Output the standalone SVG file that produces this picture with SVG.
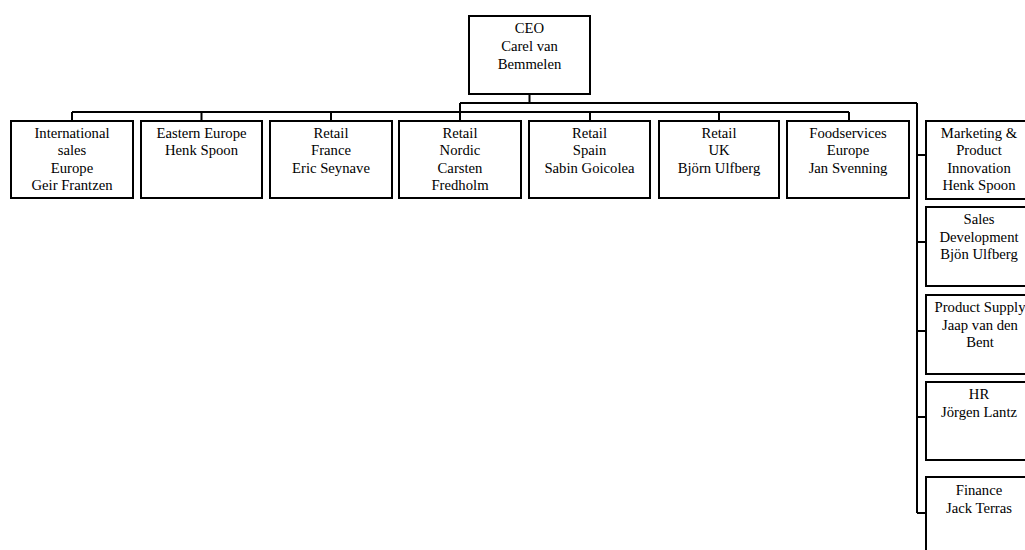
<svg xmlns="http://www.w3.org/2000/svg" width="1025" height="550" viewBox="0 0 1025 550">
<style>
.box{fill:#fff;stroke:#000;stroke-width:2}
.ln{fill:none;stroke:#000;stroke-width:2}
text{font-family:"Liberation Serif","Times New Roman",serif;font-size:14.7px;fill:#000;text-anchor:middle}
</style>
<rect width="1025" height="550" fill="#fff"/>
<g id="connectors" class="ln">
<path d="M529.5,94 V103 M460,103 H917 M460,103 V112 M72,112 H849"/>
<path d="M72,112 V121 M201.5,112 V121 M331,112 V121 M460,112 V121 M590,112 V121 M719,112 V121 M849,112 V121"/>
<path d="M917,103 V513 M917,155 H926 M917,242 H926 M917,331 H926 M917,417 H926 M917,513 H926"/>
</g>
<g id="ceo"><rect class="box" x="469" y="16" width="121" height="78"/><text x="529.5" y="33">CEO</text><text x="529.5" y="51">Carel van</text><text x="529.5" y="68.5">Bemmelen</text></g>
<g id="intl"><rect class="box" x="11" y="121" width="122" height="77"/><text x="72" y="137.5">International</text><text x="72" y="155">sales</text><text x="72" y="172.5">Europe</text><text x="72" y="190">Geir Frantzen</text></g>
<g id="eastern"><rect class="box" x="141" y="121" width="121" height="77"/><text x="201.5" y="137.5">Eastern Europe</text><text x="201.5" y="155">Henk Spoon</text></g>
<g id="france"><rect class="box" x="270" y="121" width="122" height="77"/><text x="331" y="137.5">Retail</text><text x="331" y="155">France</text><text x="331" y="172.5">Eric Seynave</text></g>
<g id="nordic"><rect class="box" x="399" y="121" width="122" height="77"/><text x="460" y="137.5">Retail</text><text x="460" y="155">Nordic</text><text x="460" y="172.5">Carsten</text><text x="460" y="190">Fredholm</text></g>
<g id="spain"><rect class="box" x="529" y="121" width="121" height="77"/><text x="589.5" y="137.5">Retail</text><text x="589.5" y="155">Spain</text><text x="589.5" y="172.5">Sabin Goicolea</text></g>
<g id="uk"><rect class="box" x="659" y="121" width="120" height="77"/><text x="719" y="137.5">Retail</text><text x="719" y="155">UK</text><text x="719" y="172.5">Björn Ulfberg</text></g>
<g id="food"><rect class="box" x="787" y="121" width="122" height="77"/><text x="848" y="137.5">Foodservices</text><text x="848" y="155">Europe</text><text x="848" y="172.5">Jan Svenning</text></g>
<g id="marketing"><rect class="box" x="926" y="121" width="108" height="78"/><text x="979" y="137.5">Marketing &amp;</text><text x="979" y="155">Product</text><text x="979" y="172.5">Innovation</text><text x="979" y="190">Henk Spoon</text></g>
<g id="salesdev"><rect class="box" x="926" y="207" width="108" height="79"/><text x="979" y="224">Sales</text><text x="979" y="241.5">Development</text><text x="979" y="259">Bjön Ulfberg</text></g>
<g id="supply"><rect class="box" x="926" y="295" width="108" height="79"/><text x="980" y="312">Product Supply</text><text x="980" y="329.5">Jaap van den</text><text x="980" y="347">Bent</text></g>
<g id="hr"><rect class="box" x="926" y="382" width="108" height="78"/><text x="979" y="399">HR</text><text x="979" y="416.5">Jörgen Lantz</text></g>
<g id="finance"><rect class="box" x="926" y="477" width="108" height="80"/><text x="979" y="495">Finance</text><text x="979" y="512.5">Jack Terras</text></g>
</svg>
